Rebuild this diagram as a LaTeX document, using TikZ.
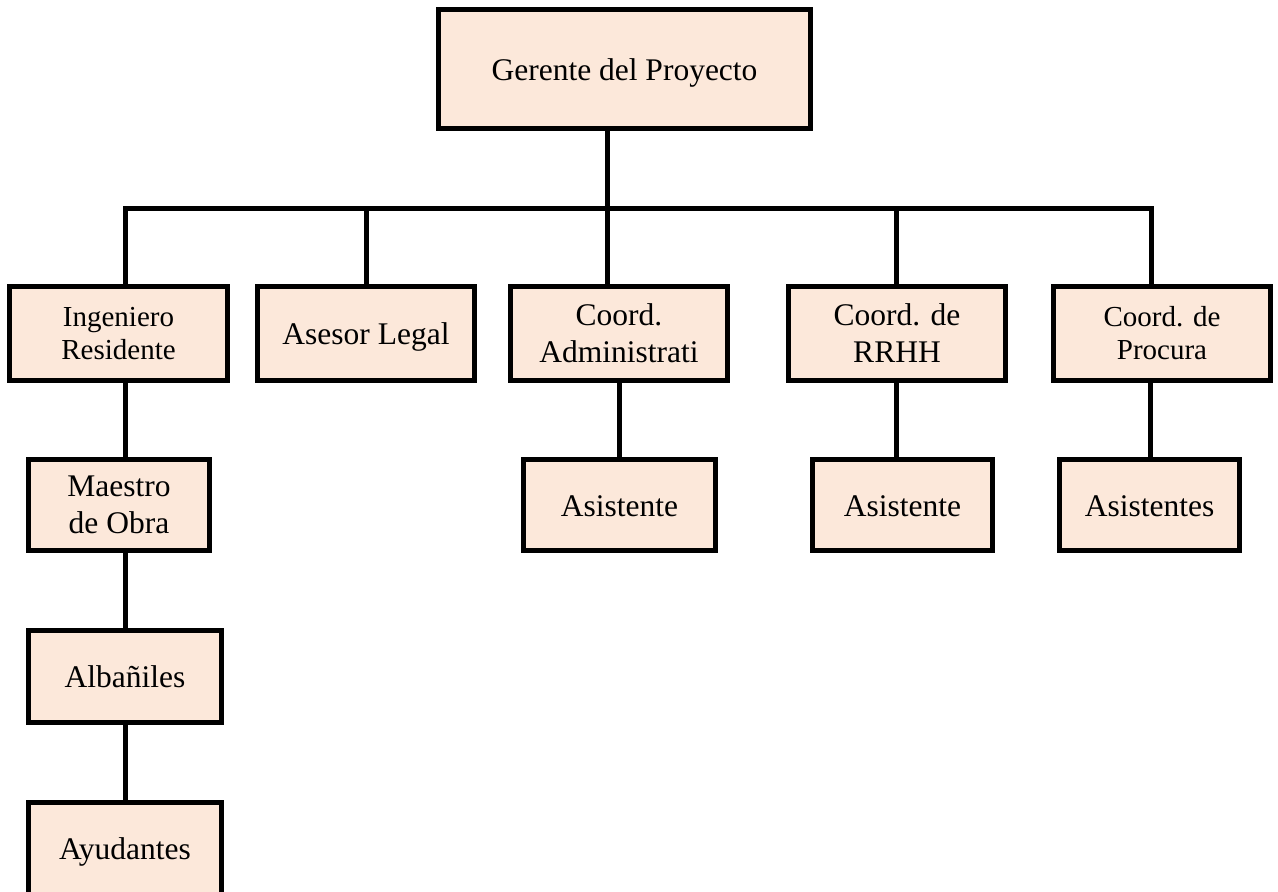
\documentclass[tikz,border=0pt]{standalone}
\usepackage{fontspec}
\setmainfont{Liberation Serif}
\definecolor{peach}{HTML}{FCE8DA}
\begin{document}
\begin{tikzpicture}[x=1pt,y=-1pt,
  box/.style={draw=black, line width=5pt, fill=peach, inner sep=0pt, align=center,
    font=\fontsize{31.5}{37}\selectfont},
  oneline/.style={text height=22pt, text depth=0pt},
  smalltext/.style={font=\fontsize{29}{33}\selectfont},
  conn/.style={draw=black, line width=5pt}]
\useasboundingbox (0,0) rectangle (1278,892);
% level 1
\node[box, oneline, minimum width=372pt, minimum height=119pt] (top) at (624.5,69) {Gerente del Proyecto};
% level 2
\node[box, smalltext, minimum width=218pt, minimum height=94pt] (ing) at (118.5,333.5) {Ingeniero\\Residente};
\node[box, oneline, minimum width=217pt, minimum height=94pt] (ase) at (366,333.5) {Asesor Legal};
\node[box, minimum width=217pt, minimum height=94pt] (adm) at (619,333.5) {Coord.\\Administrati};
\node[box, minimum width=217pt, minimum height=94pt] (rrhh) at (897,333.5) {Coord. de\\RRHH};
\node[box, smalltext, minimum width=217pt, minimum height=94pt] (pro) at (1162,333.5) {Coord. de\\Procura};
% level 3
\node[box, minimum width=181pt, minimum height=91pt] (mae) at (119,505) {Maestro\\de Obra};
\node[box, oneline, minimum width=192pt, minimum height=91pt] (as1) at (619.5,505) {Asistente};
\node[box, oneline, minimum width=180pt, minimum height=91pt] (as2) at (902.5,505) {Asistente};
\node[box, oneline, minimum width=180pt, minimum height=91pt] (as3) at (1149.5,505) {Asistentes};
% level 4, 5
\node[box, oneline, minimum width=193pt, minimum height=92pt] (alb) at (125,676.5) {Albañiles};
\node[box, oneline, minimum width=193pt, minimum height=92pt] (ayu) at (125,848.5) {Ayudantes};
% bar coordinates
\coordinate (bl) at (125,208);
\coordinate (bs) at (366,208);
\coordinate (bh) at (896.5,208);
\coordinate (br) at (1151,208);
\coordinate (tc) at (607.5,128.5);
% connectors
\draw[conn] (bl |- ing.north) -- (bl) -- (br) -- (br |- pro.north);
\draw[conn] (tc) -- (tc |- adm.north);
\draw[conn] (bs) -- (bs |- ase.north);
\draw[conn] (bh) -- (bh |- rrhh.north);
\coordinate (cl) at (125,0);
\draw[conn] (cl |- ing.south) -- (cl |- mae.north);
\draw[conn] (cl |- mae.south) -- (alb.north);
\draw[conn] (alb.south) -- (ayu.north);
\draw[conn] (adm.south) -- (adm.south |- as1.north);
\draw[conn] (bh |- rrhh.south) -- (bh |- as2.north);
\coordinate (cp) at (1150,0);
\draw[conn] (cp |- pro.south) -- (cp |- as3.north);
\end{tikzpicture}
\end{document}
